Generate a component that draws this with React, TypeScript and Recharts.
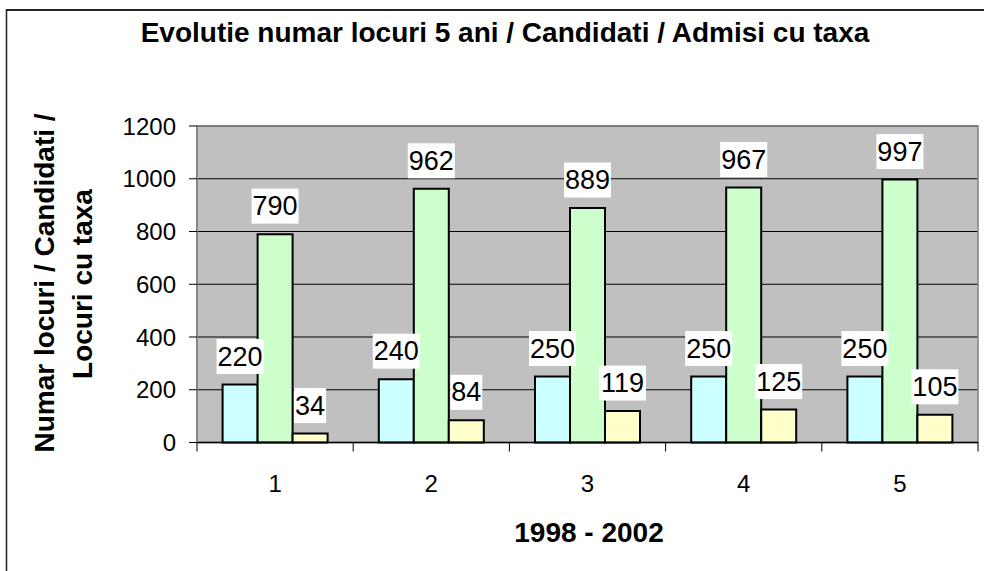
import React from 'react';
import { BarChart, Bar, XAxis, YAxis, CartesianGrid, LabelList, ReferenceArea } from 'recharts';

const categories = ['1', '2', '3', '4', '5'];
const locuri = [220, 240, 250, 250, 250];
const candidati = [790, 962, 889, 967, 997];
const admisiTaxa = [34, 84, 119, 125, 105];
const yTicks = [0, 200, 400, 600, 800, 1000, 1200];

const title = 'Evolutie numar locuri 5 ani / Candidati / Admisi cu taxa';
const yTitle1 = 'Numar locuri / Candidati /';
const yTitle2 = 'Locuri cu taxa';
const xTitle = '1998 - 2002';

const data = categories.map((c, i) => ({
  cat: c,
  locuri: locuri[i],
  candidati: candidati[i],
  taxa: admisiTaxa[i],
}));

const W = 984;
const H = 571;
const PLOT_LEFT = 197;
const PLOT_RIGHT = 978;
const PLOT_TOP = 126;
const PLOT_BOTTOM = 442.5;
const Y_AXIS_W = 80;
const X_AXIS_H = 100;
const BAND = (PLOT_RIGHT - PLOT_LEFT) / categories.length;
const FONT = '"Liberation Sans", Arial, Helvetica, sans-serif';

const XTick = (props: any) => {
  const { x, y, payload, index } = props;
  return (
    <g>
      <line x1={x - BAND / 2} x2={x - BAND / 2} y1={y} y2={y + 9} stroke="#000" strokeWidth={1} />
      {index === categories.length - 1 && (
        <line x1={x + BAND / 2} x2={x + BAND / 2} y1={y} y2={y + 9} stroke="#000" strokeWidth={1} />
      )}
      <text x={x} y={y + 49} textAnchor="middle" fontSize={24} fontFamily={FONT} fill="#000">
        {payload.value}
      </text>
    </g>
  );
};

const renderLabel = (props: any) => {
  const { x, y, width, value } = props;
  const cx = Number(x) + Number(width) / 2;
  const txt = String(value);
  const w = txt.length * 0.556 * 27 + 2;
  const bottom = Number(y) - 10.5;
  return (
    <g>
      <rect x={cx - w / 2} y={bottom - 35} width={w} height={35} fill="#fff" />
      <text x={cx} y={bottom - 8.4} textAnchor="middle" fontSize={27} fontFamily={FONT} fill="#000">
        {txt}
      </text>
    </g>
  );
};

export default function App() {
  return (
    <div style={{ position: 'absolute', left: 0, top: 0, width: W, height: H, background: '#fff', fontFamily: FONT }}>
      <BarChart
        width={W}
        height={H}
        data={data}
        margin={{ top: PLOT_TOP, right: W - PLOT_RIGHT, bottom: H - PLOT_BOTTOM - X_AXIS_H, left: PLOT_LEFT - Y_AXIS_W }}
        barGap={0}
        barCategoryGap={25.6}
      >
        <CartesianGrid vertical={false} fill="#C0C0C0" stroke="#000" strokeWidth={1} />
        <ReferenceArea y1={0} y2={1200} fill="none" stroke="#808080" strokeWidth={1.5} ifOverflow="visible" />
        <XAxis
          dataKey="cat"
          height={X_AXIS_H}
          tickLine={false}
          tickSize={0}
          tickMargin={0}
          axisLine={{ stroke: '#000', strokeWidth: 1.5 }}
          tick={<XTick />}
          interval={0}
        />
        <YAxis
          width={Y_AXIS_W}
          domain={[0, 1200]}
          ticks={yTicks}
          interval={0}
          tickSize={8}
          tickMargin={13}
          axisLine={{ stroke: '#808080', strokeWidth: 1.5 }}
          tickLine={{ stroke: '#000' }}
          tick={{ fontSize: 24, fontFamily: FONT, fill: '#000' }}
        />
        <Bar dataKey="locuri" fill="#CCFFFF" stroke="#000" strokeWidth={2} isAnimationActive={false}>
          <LabelList dataKey="locuri" content={renderLabel} />
        </Bar>
        <Bar dataKey="candidati" fill="#CCFFCC" stroke="#000" strokeWidth={2} isAnimationActive={false}>
          <LabelList dataKey="candidati" content={renderLabel} />
        </Bar>
        <Bar dataKey="taxa" fill="#FFFFCC" stroke="#000" strokeWidth={2} isAnimationActive={false}>
          <LabelList dataKey="taxa" content={renderLabel} />
        </Bar>
      </BarChart>
      <svg
        width={W}
        height={H}
        style={{ position: 'absolute', left: 0, top: 0, pointerEvents: 'none' }}
      >
        <line x1={6} x2={W} y1={10} y2={10} stroke="#222" strokeWidth={2} />
        <line x1={6.5} x2={6.5} y1={9} y2={H} stroke="#222" strokeWidth={1.5} />
        <text x={505} y={41.7} textAnchor="middle" fontSize={28} fontWeight="bold" fontFamily={FONT} fill="#000">
          {title}
        </text>
        <text
          x={54}
          y={283}
          textAnchor="middle"
          fontSize={28}
          fontWeight="bold"
          fontFamily={FONT}
          fill="#000"
          transform="rotate(-90, 54, 283)"
        >
          {yTitle1}
        </text>
        <text
          x={91.5}
          y={284}
          textAnchor="middle"
          fontSize={28}
          fontWeight="bold"
          fontFamily={FONT}
          fill="#000"
          transform="rotate(-90, 91.5, 284)"
        >
          {yTitle2}
        </text>
        <text x={589} y={542.3} textAnchor="middle" fontSize={28} fontWeight="bold" fontFamily={FONT} fill="#000">
          {xTitle}
        </text>
      </svg>
    </div>
  );
}
